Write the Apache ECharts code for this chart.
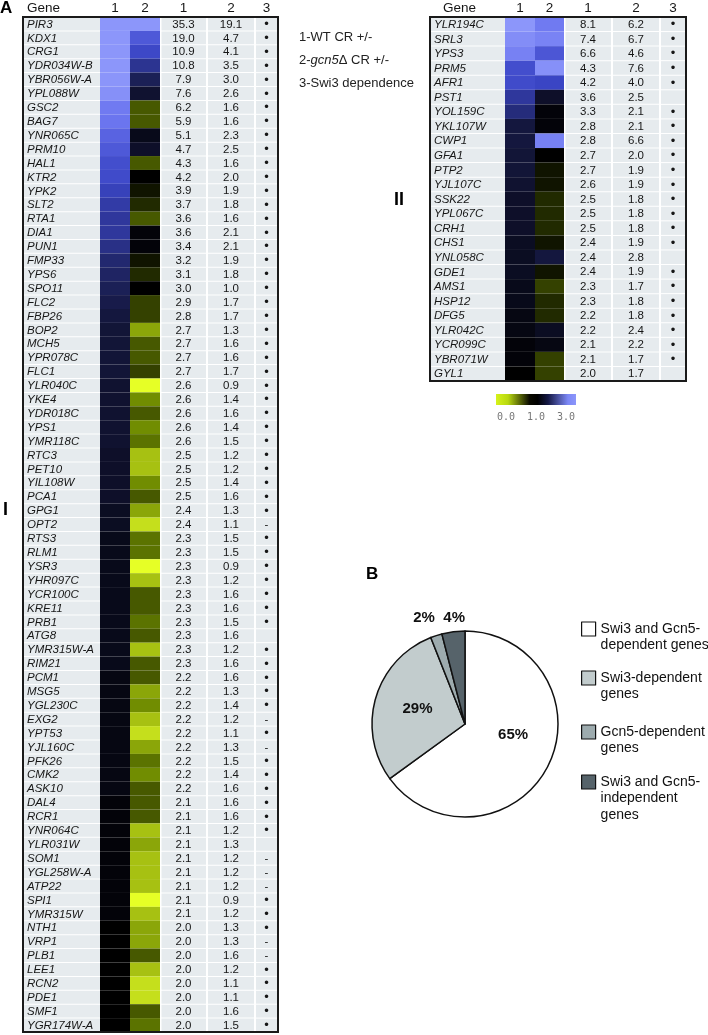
<!DOCTYPE html>
<html>
<head>
<meta charset="utf-8">
<script src="https://cdn.jsdelivr.net/npm/echarts@6/dist/echarts.min.js"></script>
<style>html,body{margin:0;padding:0;background:#fff}#c{width:708px;height:1035px}</style>
</head>
<body>
<div id="c"></div>
<script>
// ---------------- DATA ----------------
const genesI = ['PIR3','KDX1','CRG1','YDR034W-B','YBR056W-A','YPL088W','GSC2','BAG7','YNR065C','PRM10',
  'HAL1','KTR2','YPK2','SLT2','RTA1','DIA1','PUN1','FMP33','YPS6','SPO11',
  'FLC2','FBP26','BOP2','MCH5','YPR078C','FLC1','YLR040C','YKE4','YDR018C','YPS1',
  'YMR118C','RTC3','PET10','YIL108W','PCA1','GPG1','OPT2','RTS3','RLM1','YSR3',
  'YHR097C','YCR100C','KRE11','PRB1','ATG8','YMR315W-A','RIM21','PCM1','MSG5','YGL230C',
  'EXG2','YPT53','YJL160C','PFK26','CMK2','ASK10','DAL4','RCR1','YNR064C','YLR031W',
  'SOM1','YGL258W-A','ATP22','SPI1','YMR315W','NTH1','VRP1','PLB1','LEE1','RCN2',
  'PDE1','SMF1','YGR174W-A'];
const wtI = [35.3,19.0,10.9,10.8,7.9,7.6,6.2,5.9,5.1,4.7,
  4.3,4.2,3.9,3.7,3.6,3.6,3.4,3.2,3.1,3.0,
  2.9,2.8,2.7,2.7,2.7,2.7,2.6,2.6,2.6,2.6,
  2.6,2.5,2.5,2.5,2.5,2.4,2.4,2.3,2.3,2.3,
  2.3,2.3,2.3,2.3,2.3,2.3,2.3,2.2,2.2,2.2,
  2.2,2.2,2.2,2.2,2.2,2.2,2.1,2.1,2.1,2.1,
  2.1,2.1,2.1,2.1,2.1,2.0,2.0,2.0,2.0,2.0,
  2.0,2.0,2.0];
const gcnI = [19.1,4.7,4.1,3.5,3.0,2.6,1.6,1.6,2.3,2.5,
  1.6,2.0,1.9,1.8,1.6,2.1,2.1,1.9,1.8,1.0,
  1.7,1.7,1.3,1.6,1.6,1.7,0.9,1.4,1.6,1.4,
  1.5,1.2,1.2,1.4,1.6,1.3,1.1,1.5,1.5,0.9,
  1.2,1.6,1.6,1.5,1.6,1.2,1.6,1.6,1.3,1.4,
  1.2,1.1,1.3,1.5,1.4,1.6,1.6,1.6,1.2,1.3,
  1.2,1.2,1.2,0.9,1.2,1.3,1.3,1.6,1.2,1.1,
  1.1,1.6,1.5];
const swiI = ['•','•','•','•','•','•','•','•','•','•',
  '•','•','•','•','•','•','•','•','•','•',
  '•','•','•','•','•','•','•','•','•','•',
  '•','•','•','•','•','•','-','•','•','•',
  '•','•','•','•','','•','•','•','•','•',
  '-','•','-','•','•','•','•','•','•','',
  '-','-','-','•','•','•','-','-','•','•',
  '•','•','•'];
const heatReadI = {19: 2.0};

const genesII = ['YLR194C','SRL3','YPS3','PRM5','AFR1','PST1','YOL159C','YKL107W','CWP1','GFA1',
  'PTP2','YJL107C','SSK22','YPL067C','CRH1','CHS1','YNL058C','GDE1','AMS1','HSP12',
  'DFG5','YLR042C','YCR099C','YBR071W','GYL1'];
const wtII = [8.1,7.4,6.6,4.3,4.2,3.6,3.3,2.8,2.8,2.7,
  2.7,2.6,2.5,2.5,2.5,2.4,2.4,2.4,2.3,2.3,
  2.2,2.2,2.1,2.1,2.0];
const gcnII = [6.2,6.7,4.6,7.6,4.0,2.5,2.1,2.1,6.6,2.0,
  1.9,1.9,1.8,1.8,1.8,1.9,2.8,1.9,1.7,1.8,
  1.8,2.4,2.2,1.7,1.7];
const swiII = ['•','•','•','•','•','','•','•','•','•',
  '•','•','•','•','•','•','','•','•','•',
  '•','•','•','•',''];
const heatReadII = {};

const headerLabels = ['Gene','1','2','1','2','3'];
const keyLines = ['1-WT CR +/-','2-{i|gcn5}Δ CR +/-','3-Swi3 dependence'];
const scaleTicks = ['0.0','1.0','3.0'];
const pieNames = ['Swi3 and Gcn5-\ndependent genes','Swi3-dependent\ngenes','Gcn5-dependent\ngenes','Swi3 and Gcn5-\nindependent\ngenes'];
const pieValues = [65,29,2,4];

// ---------------- LAYOUT / STYLE ----------------
const FONT = 'Liberation Sans, Arial, Helvetica, sans-serif';
const CELL = '#e6ebee', INK = '#161616';
const heatColors = ['#e6ff26','#6e8a00','#000000','#151840','#3a45c4','#6670ee','#8c96fa'];
const pieColors = ['#ffffff','#c2cccd','#9dabae','#56636a'];
const layoutI = {left:23, top:17, width:255, height:1015, cols:[0,77,107,137,184,232,255], headGeneDx:4};
const layoutII = {left:430, top:17, width:256, height:364, cols:[0,75,105,134,182,230,256], headGeneDx:13};
const PIE = {cx:465, cy:724, r:93};
const pieLabelNudge = [[4,-12],[0,-1],[-7,-2],[3,3]];
const LH = 16.5;
const legendIconTops = [622, 671, 725, 775];

const tables = [
  {genes:genesI, wt:wtI, gcn:gcnI, swi:swiI, heatRead:heatReadI, L:layoutI},
  {genes:genesII, wt:wtII, gcn:gcnII, swi:swiII, heatRead:heatReadII, L:layoutII}
];
const lg = v => Math.max(0, Math.min(3, Math.log2(v)));

function heatRender(t) {
  return function (params, api) {
    const col = api.value(0), row = api.value(1);
    const c = t.L.cols;
    const h = api.size([0, 1])[1];
    const a = api.coord([c[1 + col], row]);
    const b = api.coord([c[2 + col], row]);
    return {type:'rect', shape:{x:a[0], y:a[1] - h / 2, width:b[0] - a[0], height:h},
      style:{fill: api.visual('color')}};
  };
}
function rowRender(t) {
  return function (params, api) {
    const i = params.dataIndex;
    const c = t.L.cols;
    const h = api.size([0, 1])[1];
    const yc = api.coord([0, i])[1];
    const X = v => api.coord([v, i])[0];
    const y0 = yc - h / 2 + 0.5, hh = h - 1;
    const cell = (a, b) => ({type:'rect', shape:{x:X(a), y:y0, width:X(b) - X(a), height:hh}, style:{fill:CELL}});
    const txt = (x, s, align, italic, size) => ({type:'text', x:x, y:yc + 0.5,
      style:{text:s, fill:INK, fontSize:size || 11.5, fontFamily:FONT, fontStyle: italic ? 'italic' : 'normal', align:align, verticalAlign:'middle'}});
    return {type:'group', children:[
      cell(c[0], c[1]),
      txt(X(c[0]) + 4, t.genes[i], 'left', true),
      cell(c[3] + 1.5, c[4] - 1),
      txt((X(c[3]) + X(c[4])) / 2, t.wt[i].toFixed(1), 'center'),
      cell(c[4] + 1, c[5] - 1),
      txt((X(c[4]) + X(c[5])) / 2, t.gcn[i].toFixed(1), 'center'),
      cell(c[5] + 1, c[6]),
      txt((X(c[5]) + X(c[6])) / 2, t.swi[i], 'center', false, t.swi[i] === '•' ? 13 : 11.5)
    ]};
  };
}
function headRender(t) {
  return function (params, api) {
    const j = params.dataIndex, c = t.L.cols;
    const h = api.size([0, 1])[1];
    const top = api.coord([0, 0])[1] - h / 2;
    const X = v => api.coord([v, 0])[0];
    const isGene = j === 0;
    const kids = [{type:'text', x: isGene ? X(c[0]) + t.L.headGeneDx : (X(c[j]) + X(c[j + 1])) / 2, y: top - 9,
      style:{text:headerLabels[j], fill:INK, fontSize:13.5, fontFamily:FONT, align: isGene ? 'left' : 'center', verticalAlign:'middle'}}];
    if (isGene) {
      const bottom = api.coord([0, t.genes.length - 1])[1] + h / 2;
      kids.push({type:'rect', shape:{x:X(0), y:top, width:X(t.L.width) - X(0), height:bottom - top},
        style:{fill:'none', stroke:'#1a1a1a', lineWidth:2}});
    }
    return {type:'group', children:kids};
  };
}

const grids = [], xAxes = [], yAxes = [], series = [], heatIdx = [];
tables.forEach((t, k) => {
  grids.push({left:t.L.left, top:t.L.top, width:t.L.width, height:t.L.height, show:false});
  xAxes.push({type:'value', gridIndex:k, min:0, max:t.L.width, show:false});
  yAxes.push({type:'category', gridIndex:k, data:t.genes, inverse:true, show:false});
  const heatData = [];
  t.genes.forEach((g, i) => {
    heatData.push([0, i, lg(t.wt[i])]);
    const v2 = (t.heatRead[i] !== undefined) ? t.heatRead[i] : t.gcn[i];
    heatData.push([1, i, lg(v2)]);
  });
  heatIdx.push(series.length);
  series.push({type:'custom', xAxisIndex:k, yAxisIndex:k, encode:{x:0, y:1}, data:heatData, renderItem:heatRender(t), silent:true, z:2});
  series.push({type:'custom', xAxisIndex:k, yAxisIndex:k, encode:{x:0, y:1}, data:t.genes.map((g, i) => [0, i]), renderItem:rowRender(t), silent:true, z:3});
  series.push({type:'custom', xAxisIndex:k, yAxisIndex:k, encode:{x:0, y:1}, data:headerLabels.map(() => [0, 0]), renderItem:headRender(t), silent:true, z:4});
});

const pieTotal = pieValues.reduce((a, b) => a + b, 0);
series.push({
  type:'pie', center:[PIE.cx, PIE.cy], radius:PIE.r, startAngle:90, clockwise:true,
  avoidLabelOverlap:false, silent:true,
  data: pieNames.map((n, k) => ({name:n, value:pieValues[k], itemStyle:{color:pieColors[k]}})),
  itemStyle:{borderColor:'#111', borderWidth:1.5},
  label:{show:true, position:'inside', formatter:'{c}%', fontSize:15, fontWeight:'bold', color:'#111', fontFamily:FONT},
  labelLine:{show:false},
  labelLayout: function (p) {
    const k = p.dataIndex;
    const n = pieLabelNudge[k];
    if (k < 2) return {dx:n[0], dy:n[1]};
    let cum = 0;
    for (let m = 0; m < k; m++) cum += pieValues[m];
    const mid = (cum + pieValues[k] / 2) / pieTotal * Math.PI * 2;
    const d = PIE.r + 17;
    return {x: PIE.cx + d * Math.sin(mid) + n[0], y: PIE.cy - d * Math.cos(mid) + n[1], align:'center', verticalAlign:'middle'};
  }
});

const legends = pieNames.map((n, k) => {
  const lines = n.split('\n').length;
  return {data:[n], left:581, top:legendIconTops[k] + 7 - (2 * lines - 1) * LH / 2, orient:'vertical', padding:0,
    icon:'rect', itemWidth:14, itemHeight:14, selectedMode:false,
    itemStyle:{borderColor:'#111', borderWidth:1.2},
    // leading blank lines keep the first text line level with the swatch
    formatter: name => '\n'.repeat(lines - 1) + name,
    textStyle:{fontSize:14, lineHeight:LH, color:'#111', fontFamily:FONT}};
});

const graphic = [
  {type:'text', x:0, y:8, style:{text:'A', fontSize:17, fontWeight:'bold', fill:'#000', fontFamily:FONT, verticalAlign:'middle'}},
  {type:'text', x:366, y:574, style:{text:'B', fontSize:17, fontWeight:'bold', fill:'#000', fontFamily:FONT, verticalAlign:'middle'}},
  {type:'text', x:3, y:510, style:{text:'I', fontSize:18, fontWeight:'bold', fill:'#000', fontFamily:FONT, verticalAlign:'middle'}},
  {type:'text', x:394, y:200, style:{text:'II', fontSize:18, fontWeight:'bold', fill:'#000', fontFamily:FONT, verticalAlign:'middle'}},
  {type:'rect', shape:{x:496, y:394, width:80, height:11},
    style:{fill:{type:'linear', x:0, y:0, x2:1, y2:0, colorStops:[
      {offset:0, color:'#d6f21a'},{offset:0.15, color:'#b8d810'},{offset:0.42, color:'#0a0a00'},
      {offset:0.52, color:'#000000'},{offset:0.65, color:'#141845'},{offset:0.9, color:'#7c88f6'},{offset:1, color:'#8c96fa'}]}}}
];
keyLines.forEach((s, k) => graphic.push({type:'text', x:299, y:37 + k * 23,
  style:{text:s, fontSize:13, fill:'#222', fontFamily:FONT, verticalAlign:'middle',
    rich:{i:{fontStyle:'italic', fontSize:13, fill:'#222', fontFamily:FONT}}}}));
scaleTicks.forEach((s, k) => graphic.push({type:'text', x:506 + k * 30, y:417,
  style:{text:s, fontSize:10, fill:'#777', fontFamily:'DejaVu Sans Mono, monospace', align:'center', verticalAlign:'middle'}}));

const chart = echarts.init(document.getElementById('c'), null, {renderer:'canvas'});
chart.setOption({
  animation:false,
  backgroundColor:'#ffffff',
  textStyle:{fontFamily:FONT},
  grid:grids, xAxis:xAxes, yAxis:yAxes,
  visualMap:{type:'continuous', show:false, min:0, max:3, dimension:2, seriesIndex:heatIdx, inRange:{color:heatColors}},
  legend:legends,
  graphic:graphic,
  series:series
});
</script>
</body>
</html>
